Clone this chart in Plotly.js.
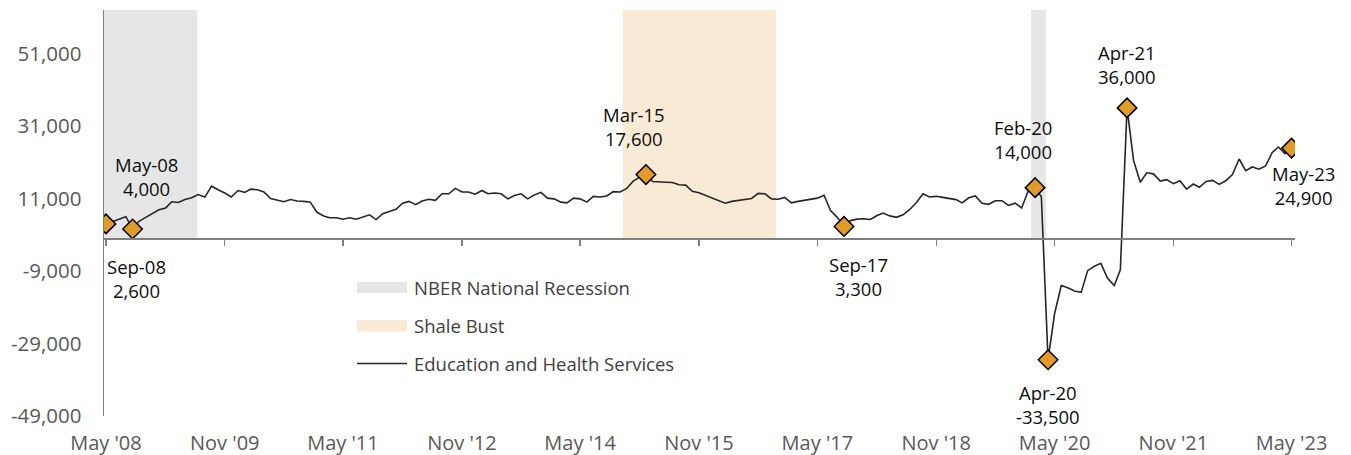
<!DOCTYPE html>
<html>
<head>
<meta charset="utf-8">
<script src="https://cdn.plot.ly/plotly-3.0.1.min.js"></script>
<style>
  html, body { margin: 0; padding: 0; background: #ffffff; }
  #chart { width: 1351px; height: 455px; }
</style>
</head>
<body>
<div id="chart"></div>
<script>
// ---- Data (monthly, May 2008 – May 2023) ----
const startYear = 2008;
const startMonth = 5; // May
const seriesName = "Education and Health Services";
const seriesValues = [
  4000, 4700, 5200, 6000, 2600, 4700, 5800, 6800, 7900, 8400,
  10100, 9900, 10700, 11200, 12100, 11400, 14400, 13400, 12500, 11400,
  13200, 12700, 13600, 13400, 12800, 11000, 10500, 10100, 10700, 10300,
  10200, 10000, 7200, 6200, 5700, 5700, 5300, 5700, 5300, 5800,
  6500, 5200, 6800, 7400, 8000, 9700, 10200, 9300, 10300, 10800,
  10500, 12300, 12300, 13800, 12800, 12800, 12200, 13200, 12300, 12500,
  12300, 10900, 11800, 12300, 10900, 12000, 12700, 11100, 10900, 10000,
  9800, 11100, 10900, 10000, 11600, 11400, 11700, 12900, 12800, 13700,
  15800, 16900, 17600, 15700, 15500, 15500, 15400, 14800, 14700, 13000,
  12600, 11900, 11200, 10400, 9700, 10200, 10400, 10800, 11000, 12400,
  12300, 10900, 10800, 11300, 9800, 10200, 10500, 10700, 11100, 11900,
  7700, 5800, 3300, 4900, 5300, 5400, 5200, 6300, 7000, 6200,
  5800, 6500, 7900, 9800, 12300, 11400, 11600, 11300, 11000, 10700,
  9800, 11200, 11700, 9700, 9400, 10400, 10400, 9100, 9700, 8400,
  13200, 14000, 11500, -33500, -20800, -13000, -13600, -14500, -14900, -8900,
  -7700, -6900, -11000, -13000, -8700, 36000, 21500, 15500, 18100, 17800,
  15800, 16200, 15100, 15900, 13600, 15000, 14100, 15700, 16000, 14900,
  15900, 17600, 21900, 18700, 19700, 19100, 20000, 23700, 25200, 23400,
  24900
];

const highlightDates  = ["2008-05-01", "2008-09-01", "2015-03-01", "2017-09-01", "2020-02-01", "2020-04-01", "2021-04-01", "2023-05-01"];
const highlightValues = [4000, 2600, 17600, 3300, 14000, -33500, 36000, 24900];
const highlightLabels = ["May-08", "Sep-08", "Mar-15", "Sep-17", "Feb-20", "Apr-20", "Apr-21", "May-23"];
// label offsets (pixels) relative to each highlighted point
const labelShiftX = [41, 4, -12, 15, -12, 0, 0, 12];
const labelShiftY = [47, -50, 48, -50, 48, -45, 43, -37];

const recessionStarts = ["2007-12-01", "2020-01-14"];
const recessionEnds   = ["2009-06-27", "2020-03-22"];
const shaleStarts = ["2014-11-14"];
const shaleEnds   = ["2016-10-21"];

const xTickVals = ["2008-05-01", "2009-11-01", "2011-05-01", "2012-11-01", "2014-05-01", "2015-11-01",
                   "2017-05-01", "2018-11-01", "2020-05-01", "2021-11-01", "2023-05-01"];
const xTickText = ["May '08", "Nov '09", "May '11", "Nov '12", "May '14", "Nov '15",
                   "May '17", "Nov '18", "May '20", "Nov '21", "May '23"];
const yTickVals = [-49000, -29000, -9000, 11000, 31000, 51000];
const yTickText = ["-49,000", "-29,000", "-9,000", "11,000", "31,000", "51,000"];

const legendLabels = ["NBER National Recession", "Shale Bust", seriesName];

// ---- Build month dates ----
function pad(n) { return (n < 10 ? "0" : "") + n; }
const dates = seriesValues.map((_, i) => {
  const mIdx = (startMonth - 1) + i;
  const y = startYear + Math.floor(mIdx / 12);
  const m = (mIdx % 12) + 1;
  return y + "-" + pad(m) + "-01";
});

const FONT = "Open Sans, Lato, sans-serif";
const TICK_COLOR = "#595959";
const AXIS_COLOR = "#7f7f7f";
const GRAY = "#E6E6E6";
const PEACH = "#F9EAD5";
const LINE = "#262626";
const GOLD = "#E29A28";
const X_RANGE = ["2008-04-22", "2023-05-17"];
const Y_RANGE = [-49000, 63000];

const traces = [
  {
    x: dates, y: seriesValues, type: "scatter", mode: "lines",
    name: seriesName, line: { color: LINE, width: 1.6 },
    hoverinfo: "x+y", showlegend: false
  },
  {
    x: highlightDates, y: highlightValues, type: "scatter", mode: "markers",
    marker: { symbol: "diamond", size: 15, color: GOLD, line: { color: "#000000", width: 1.5 } },
    hoverinfo: "x+y", showlegend: false
  },
  { // helper so the zero-crossing axis is rendered
    x: [dates[0]], y: [null], xaxis: "x2", yaxis: "y", type: "scatter", mode: "lines",
    hoverinfo: "skip", showlegend: false
  }
];

const shapes = [];
recessionStarts.forEach((s, i) => {
  shapes.push({ type: "rect", xref: "x", yref: "y", x0: s, x1: recessionEnds[i], y0: 0, y1: Y_RANGE[1],
    fillcolor: GRAY, line: { width: 0 }, layer: "below" });
});
shaleStarts.forEach((s, i) => {
  shapes.push({ type: "rect", xref: "x", yref: "y", x0: s, x1: shaleEnds[i], y0: 0, y1: Y_RANGE[1],
    fillcolor: PEACH, line: { width: 0 }, layer: "below" });
});
// manual legend swatches
shapes.push({ type: "rect", xref: "paper", yref: "paper", x0: 0.2124, x1: 0.2544, y0: 0.3030, y1: 0.3300,
  fillcolor: GRAY, line: { width: 0 } });
shapes.push({ type: "rect", xref: "paper", yref: "paper", x0: 0.2124, x1: 0.2544, y0: 0.2081, y1: 0.2365,
  fillcolor: PEACH, line: { width: 0 } });
shapes.push({ type: "line", xref: "paper", yref: "paper", x0: 0.2124, x1: 0.2544, y0: 0.1293, y1: 0.1293,
  line: { color: LINE, width: 1.6 } });

function fmt(v) { return (v < 0 ? "-" : "") + Math.abs(v).toLocaleString("en-US"); }

const annotations = highlightDates.map((d, i) => ({
  x: d, y: highlightValues[i], xref: "x", yref: "y",
  text: highlightLabels[i] + "<br>" + fmt(highlightValues[i]),
  showarrow: false, xanchor: "center", yanchor: "middle",
  xshift: labelShiftX[i], yshift: labelShiftY[i],
  font: { family: FONT, size: 18.5, color: "#0d0d0d" }
}));
const legendY = [0.3165, 0.2229, 0.1293];
legendLabels.forEach((t, i) => {
  annotations.push({
    x: 0.2586, y: legendY[i], xref: "paper", yref: "paper", text: t, showarrow: false,
    xanchor: "left", yanchor: "middle", font: { family: FONT, size: 18.5, color: "#404040" }
  });
});

const layout = {
  width: 1351, height: 455,
  margin: { l: 104, r: 56, t: 10, b: 39 },
  paper_bgcolor: "#ffffff", plot_bgcolor: "#ffffff",
  showlegend: false,
  font: { family: FONT, color: TICK_COLOR },
  xaxis: {
    type: "date", range: X_RANGE, showgrid: false, zeroline: false, showline: false,
    tickmode: "array", tickvals: xTickVals, ticktext: xTickText,
    ticks: "", ticklabelstandoff: 13,
    tickfont: { family: FONT, size: 20, color: TICK_COLOR }
  },
  xaxis2: {
    type: "date", range: X_RANGE, overlaying: "x", anchor: "free",
    position: (0 - Y_RANGE[0]) / (Y_RANGE[1] - Y_RANGE[0]),
    showgrid: false, zeroline: false, showline: true, linecolor: AXIS_COLOR, linewidth: 1.4,
    tickmode: "array", tickvals: xTickVals, ticks: "outside", ticklen: 6, tickwidth: 1.3,
    tickcolor: AXIS_COLOR, showticklabels: false
  },
  yaxis: {
    range: Y_RANGE, showgrid: false, zeroline: false, showline: true,
    linecolor: AXIS_COLOR, linewidth: 1.4,
    tickmode: "array", tickvals: yTickVals, ticktext: yTickText, ticks: "",
    ticklabelstandoff: 17,
    tickfont: { family: FONT, size: 20.5, color: TICK_COLOR }
  },
  shapes: shapes,
  annotations: annotations
};

Plotly.newPlot("chart", traces, layout, { staticPlot: true, displayModeBar: false });
</script>
</body>
</html>
